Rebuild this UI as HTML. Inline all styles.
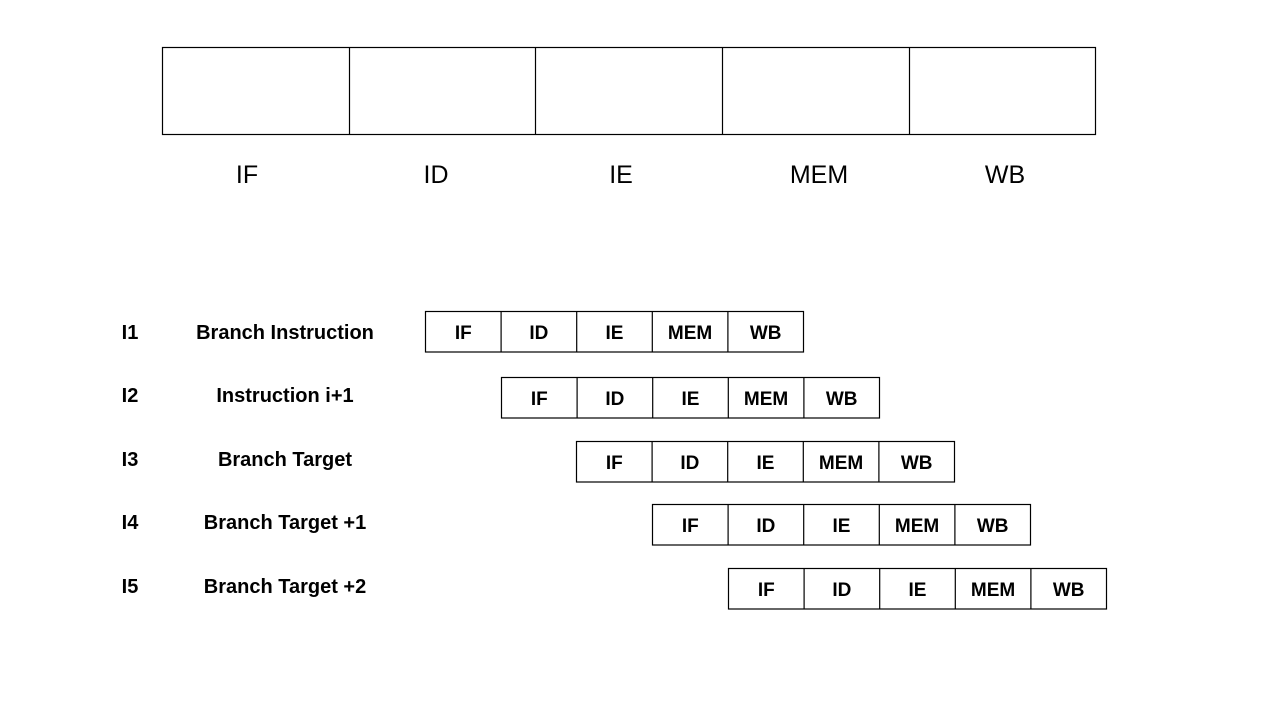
<!DOCTYPE html>
<html><head><style>
body{margin:0;background:#fff}
svg text{font-family:"Liberation Sans",sans-serif;fill:#000}
.b{font-weight:bold;font-size:20px}
.c{font-weight:bold;font-size:19px}
.t{font-size:25px}
</style></head><body>
<svg width="1280" height="720" xmlns="http://www.w3.org/2000/svg">
<g fill="none" stroke="#000" stroke-width="1.2">
<rect x="162.5" y="47.5" width="933" height="87"/>
<line x1="349.5" y1="47.5" x2="349.5" y2="134.5"/>
<line x1="535.5" y1="47.5" x2="535.5" y2="134.5"/>
<line x1="722.5" y1="47.5" x2="722.5" y2="134.5"/>
<line x1="909.5" y1="47.5" x2="909.5" y2="134.5"/>
</g>
<g class="t" text-anchor="middle">
<text x="247" y="183">IF</text><text x="436" y="183">ID</text><text x="621" y="183">IE</text><text x="819" y="183">MEM</text><text x="1005" y="183">WB</text>
</g>
<defs>
<g id="row">
<g fill="none" stroke="#000" stroke-width="1.2">
<rect x="0" y="0" width="378" height="40.5"/>
<line x1="75.6" y1="0" x2="75.6" y2="40.5"/>
<line x1="151.2" y1="0" x2="151.2" y2="40.5"/>
<line x1="226.8" y1="0" x2="226.8" y2="40.5"/>
<line x1="302.4" y1="0" x2="302.4" y2="40.5"/>
</g>
</g>
</defs>
<use href="#row" x="425.5" y="311.5"/>
<use href="#row" x="501.5" y="377.5"/>
<use href="#row" x="576.5" y="441.5"/>
<use href="#row" x="652.5" y="504.5"/>
<use href="#row" x="728.5" y="568.5"/>
<g class="c" text-anchor="middle">
<text x="463.3" y="339">IF</text><text x="538.9" y="339">ID</text><text x="614.5" y="339">IE</text><text x="690.1" y="339">MEM</text><text x="765.7" y="339">WB</text>
<text x="539.3" y="405">IF</text><text x="614.9" y="405">ID</text><text x="690.5" y="405">IE</text><text x="766.1" y="405">MEM</text><text x="841.7" y="405">WB</text>
<text x="614.3" y="469">IF</text><text x="689.9" y="469">ID</text><text x="765.5" y="469">IE</text><text x="841.1" y="469">MEM</text><text x="916.7" y="469">WB</text>
<text x="690.3" y="532">IF</text><text x="765.9" y="532">ID</text><text x="841.5" y="532">IE</text><text x="917.1" y="532">MEM</text><text x="992.7" y="532">WB</text>
<text x="766.3" y="596">IF</text><text x="841.9" y="596">ID</text><text x="917.5" y="596">IE</text><text x="993.1" y="596">MEM</text><text x="1068.7" y="596">WB</text>
</g>
<g class="b" text-anchor="middle">
<text x="130" y="339">I1</text><text x="285" y="339">Branch Instruction</text>
<text x="130" y="402">I2</text><text x="285" y="402">Instruction i+1</text>
<text x="130" y="466">I3</text><text x="285" y="466">Branch Target</text>
<text x="130" y="529">I4</text><text x="285" y="529">Branch Target +1</text>
<text x="130" y="593">I5</text><text x="285" y="593">Branch Target +2</text>
</g>
</svg>
</body></html>
